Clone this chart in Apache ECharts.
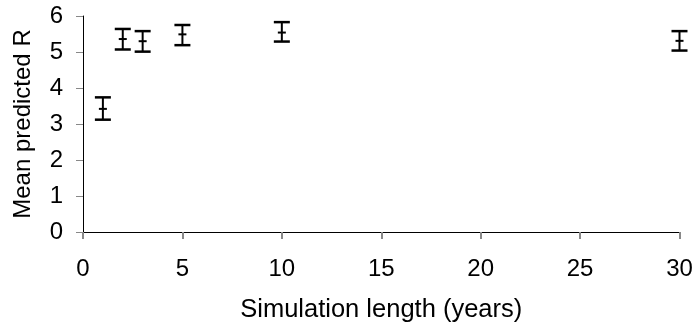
<!DOCTYPE html>
<html>
<head>
<meta charset="utf-8">
<script src="https://cdn.jsdelivr.net/npm/echarts@6/dist/echarts.min.js"></script>
<style>
  html, body { margin: 0; padding: 0; background: #fff; }
  #chart { width: 696px; height: 330px; }
</style>
</head>
<body>
<div id="chart"></div>
<script>
// Simulation length (years) and the mean predicted R with its error range
var years = [1, 2, 3, 5, 10, 30];
var meanR = [3.42, 5.36, 5.30, 5.49, 5.54, 5.31];
var lowerR = [3.12, 5.07, 5.01, 5.19, 5.29, 5.04];
var upperR = [3.74, 5.64, 5.58, 5.75, 5.83, 5.58];
var xTicks = [0, 5, 10, 15, 20, 25, 30];
var yTicks = [0, 1, 2, 3, 4, 5, 6];

var font = 'Liberation Sans, Arial, sans-serif';
var fontSize = 24;

var errData = years.map(function (y, i) {
  return [y, lowerR[i], upperR[i], meanR[i]];
});

var chart = echarts.init(document.getElementById('chart'), null, { renderer: 'canvas' });

chart.setOption({
  animation: false,
  backgroundColor: '#ffffff',
  grid: { left: 83, right: 16.5, top: 16, bottom: 98 },
  xAxis: {
    type: 'value',
    min: xTicks[0],
    max: xTicks[xTicks.length - 1],
    interval: 5,
    name: 'Simulation length (years)',
    nameLocation: 'middle',
    nameGap: 65,
    nameTextStyle: { color: '#000', fontSize: 25.5, fontFamily: font },
    axisLine: { show: true, lineStyle: { color: '#000', width: 1 } },
    axisTick: { show: true, length: 7, lineStyle: { color: '#888', width: 2 } },
    axisLabel: { color: '#000', fontSize: fontSize, fontFamily: font, margin: 25 },
    splitLine: { show: false }
  },
  yAxis: {
    type: 'value',
    min: yTicks[0],
    max: yTicks[yTicks.length - 1],
    interval: 1,
    name: 'Mean predicted R',
    nameLocation: 'middle',
    nameGap: 48,
    nameTextStyle: { color: '#000', fontSize: fontSize, fontFamily: font },
    axisLine: { show: true, lineStyle: { color: '#000', width: 1 } },
    axisTick: { show: true, length: 7, lineStyle: { color: '#888', width: 1 } },
    axisLabel: { color: '#000', fontSize: fontSize, fontFamily: font, margin: 20 },
    splitLine: { show: false }
  },
  series: [{
    type: 'custom',
    data: errData,
    clip: false,
    renderItem: function (params, api) {
      var x = api.value(0);
      var lo = api.coord([x, api.value(1)]);
      var hi = api.coord([x, api.value(2)]);
      var mid = api.coord([x, api.value(3)]);
      var capHalf = 8;
      var plusHalf = 4;
      var style = { stroke: '#000', lineWidth: 2 };
      return {
        type: 'group',
        children: [
          { type: 'line', shape: { x1: hi[0], y1: hi[1], x2: lo[0], y2: lo[1] }, style: style },
          { type: 'line', shape: { x1: hi[0] - capHalf, y1: hi[1], x2: hi[0] + capHalf, y2: hi[1] }, style: { stroke: '#000', lineWidth: 2.5 } },
          { type: 'line', shape: { x1: lo[0] - capHalf, y1: lo[1], x2: lo[0] + capHalf, y2: lo[1] }, style: { stroke: '#000', lineWidth: 2.5 } },
          { type: 'line', shape: { x1: mid[0] - plusHalf, y1: mid[1], x2: mid[0] + plusHalf, y2: mid[1] }, style: style }
        ]
      };
    }
  }]
});
</script>
</body>
</html>
